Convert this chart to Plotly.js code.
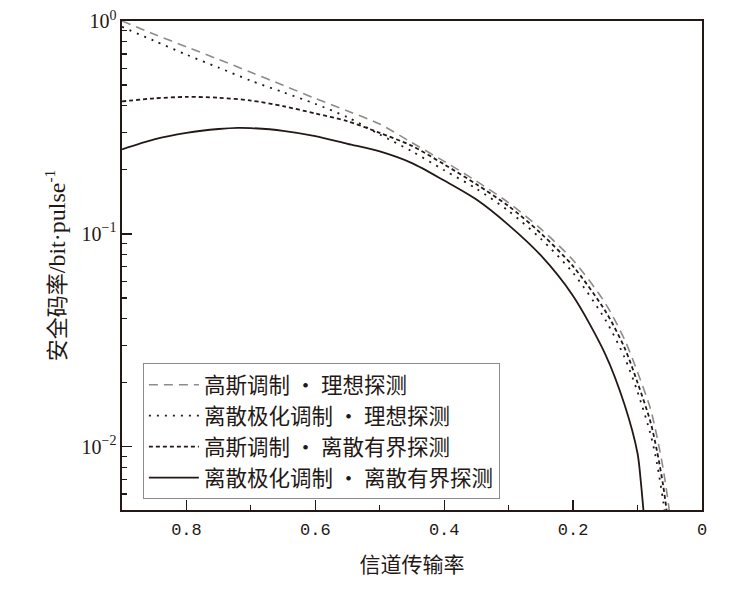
<!DOCTYPE html>
<html>
<head>
<meta charset="utf-8">
<script src="https://cdn.plot.ly/plotly-3.0.1.min.js"></script>
<style>html,body{margin:0;padding:0;background:#fff;}#chart{width:739px;height:591px;}</style>
</head>
<body>
<div id="chart"></div>
<script>
// Channel transmittance (x) and secure key rates (bit/pulse)
const transmittance = [0.9, 0.85, 0.8, 0.75, 0.7, 0.65, 0.6, 0.55, 0.5, 0.45, 0.4, 0.35, 0.3, 0.25, 0.2, 0.15, 0.12, 0.1, 0.08, 0.07, 0.06, 0.05, 0.045];
const gaussIdeal   = [1.00, 0.867, 0.756, 0.660, 0.574, 0.499, 0.433, 0.378, 0.328, 0.268, 0.219, 0.177, 0.140, 0.1055, 0.0752, 0.0472, 0.0318, 0.0224, 0.0151, 0.0112, 0.0078, 0.0048, 0.0032];
const dpskIdeal    = [0.939, 0.807, 0.695, 0.604, 0.524, 0.463, 0.408, 0.353, 0.293, 0.244, 0.199, 0.163, 0.128, 0.0948, 0.0655, 0.0395, 0.0262, 0.0181, 0.0115, 0.0084, 0.0055, 0.0033, 0.0024];
const gaussBounded = [0.419, 0.433, 0.440, 0.436, 0.423, 0.398, 0.368, 0.338, 0.298, 0.259, 0.212, 0.171, 0.135, 0.1006, 0.0704, 0.0434, 0.0291, 0.0200, 0.0131, 0.0096, 0.0065, 0.0038, 0.0027];
const dpskBoundedX = [0.9, 0.85, 0.8, 0.75, 0.72, 0.7, 0.65, 0.6, 0.55, 0.5, 0.45, 0.4, 0.35, 0.3, 0.25, 0.2, 0.15, 0.12, 0.1, 0.095, 0.09, 0.085];
const dpskBounded  = [0.2495, 0.278, 0.298, 0.311, 0.315, 0.314, 0.305, 0.288, 0.265, 0.244, 0.215, 0.178, 0.145, 0.110, 0.0792, 0.0511, 0.0272, 0.0157, 0.0093, 0.0069, 0.0047, 0.0032];

const seriesNames = ['高斯调制 • 理想探测', '离散极化调制 • 理想探测', '高斯调制 • 离散有界探测', '离散极化调制 • 离散有界探测'];
const xTickVals = [0.8, 0.6, 0.4, 0.2, 0];
const xTickText = ['0.8', '0.6', '0.4', '0.2', '0'];
const xMinorTicks = [0.7, 0.5, 0.3, 0.1];
const yTickVals = [0.01, 0.1, 1];
const yTickText = ['10<sup>−2</sup>', '10<sup>−1</sup>', '10<sup>0</sup>'];
const yMinorTicks = [0.006, 0.007, 0.008, 0.009, 0.02, 0.03, 0.04, 0.05, 0.06, 0.07, 0.08, 0.09, 0.2, 0.3, 0.4, 0.5, 0.6, 0.7, 0.8, 0.9];

const dark = '#231815';
const serif = 'Liberation Serif, Noto Sans CJK SC, serif';
const cjk = 'Noto Sans CJK SC, Liberation Serif, sans-serif';

const traces = [
  {x: transmittance, y: gaussIdeal, name: seriesNames[0], mode: 'lines', line: {color: '#8c8c8c', width: 1.6, dash: '9px,6px', shape: 'spline', smoothing: 0.8}},
  {x: transmittance, y: dpskIdeal, name: seriesNames[1], mode: 'lines', line: {color: dark, width: 1.8, dash: '2px,6px', shape: 'spline', smoothing: 0.8}},
  {x: transmittance, y: gaussBounded, name: seriesNames[2], mode: 'lines', line: {color: dark, width: 1.8, dash: '4px,3px', shape: 'spline', smoothing: 0.8}},
  {x: dpskBoundedX, y: dpskBounded, name: seriesNames[3], mode: 'lines', line: {color: dark, width: 1.8, shape: 'spline', smoothing: 0.8}}
];

const layout = {
  width: 739, height: 591,
  margin: {l: 122, r: 37, t: 21, b: 81},
  paper_bgcolor: '#fff', plot_bgcolor: '#fff',
  showlegend: true,
  legend: {
    x: 0.036, y: 0.30, xanchor: 'left', yanchor: 'top',
    bgcolor: '#fff', bordercolor: '#8c8c8c', borderwidth: 1,
    font: {family: cjk, size: 21.5, color: dark},
    itemwidth: 50, tracegroupgap: 0
  },
  xaxis: {
    range: [0.9, 0], showgrid: false, zeroline: false,
    showline: true, linecolor: dark, linewidth: 1.6, mirror: true,
    ticks: 'inside', ticklen: 10, tickwidth: 1.4, tickcolor: dark,
    tickmode: 'array', tickvals: xTickVals, ticktext: xTickText,
    ticklabelstandoff: 3,
    tickfont: {family: 'Liberation Mono, monospace', size: 17, color: dark},
    minor: {ticks: 'inside', ticklen: 5, tickwidth: 1.2, tickcolor: dark, tickmode: 'array', tickvals: xMinorTicks, showgrid: false},
    title: {text: '信道传输率', font: {family: cjk, size: 21, color: dark}, standoff: 18}
  },
  yaxis: {
    type: 'log', range: [-2.297, 0.0], showgrid: false, zeroline: false,
    showline: true, linecolor: dark, linewidth: 1.6, mirror: true,
    ticks: 'inside', ticklen: 10, tickwidth: 1.4, tickcolor: dark,
    tickmode: 'array', tickvals: yTickVals, ticktext: yTickText,
    tickfont: {family: serif, size: 20, color: dark},
    minor: {ticks: 'inside', ticklen: 5, tickwidth: 1.2, tickcolor: dark, tickmode: 'array', tickvals: yMinorTicks, showgrid: false},
    title: {text: '安全码率<span style="font-size:24px">/bit·pulse</span><sup>-1</sup>', font: {family: serif, size: 22, color: dark}, standoff: 10}
  }
};

Plotly.newPlot('chart', traces, layout, {displayModeBar: false, staticPlot: true});
</script>
</body>
</html>
